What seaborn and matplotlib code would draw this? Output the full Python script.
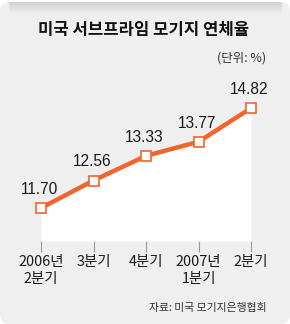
import numpy as np
import pandas as pd
import matplotlib
matplotlib.use('Agg')
import matplotlib.pyplot as plt
import seaborn as sns
from matplotlib.patches import FancyBboxPatch

# 미국 서브프라임 모기지 연체율 (%)
quarters = ['2006년\n2분기', '3분기', '4분기', '2007년\n1분기', '2분기']
rates = [11.70, 12.56, 13.33, 13.77, 14.82]
rate_labels = ['11.70', '12.56', '13.33', '13.77', '14.82']

df = pd.DataFrame({'pos': range(len(quarters)), 'rate': rates})

sns.set_style('white')
plt.rcParams['font.family'] = ['Noto Sans CJK KR', 'DejaVu Sans']

bg = '#efefef'
orange = '#f2642e'

fig = plt.figure(figsize=(2.9, 3.24), dpi=100)
fig.patch.set_facecolor('white')

# rounded panel with a gray shade at the top edge
shade = fig.add_axes([0, 0, 1, 1], zorder=-2)
shade.set_xlim(0, 1)
shade.set_ylim(0, 1)
panel = FancyBboxPatch((0.0, 0.0), 1.0, 1 - 2 / 324, boxstyle='round,pad=0,rounding_size=0.03',
                       facecolor=bg, edgecolor='none', transform=shade.transAxes, zorder=-1)
shade.add_patch(panel)
grad = np.linspace(0, 1, 40).reshape(-1, 1)
cmap = matplotlib.colors.LinearSegmentedColormap.from_list('g', ['#d2d2d2', bg])
shade.imshow(grad, cmap=cmap, aspect='auto', extent=[0.03, 0.97, 1 - 14 / 324, 1 - 2 / 324],
             origin='upper', zorder=0)
shade.axis('off')

ax = fig.add_axes([41 / 290, 83 / 324, 210 / 290, 161 / 324])
ax.set_facecolor('none')
ymin = 10.67
ax.set_xlim(0, 4)
ax.set_ylim(ymin, 15.7)

ax.fill_between(df['pos'], ymin, df['rate'], color='white', lw=0, zorder=1)
sns.lineplot(data=df, x='pos', y='rate', ax=ax, color=orange, lw=3.2, zorder=3,
             marker='s', markersize=7.5, markerfacecolor='white', markeredgecolor=orange,
             markeredgewidth=1.2, clip_on=False)
for line in ax.lines:
    line.set_clip_on(False)

for x, y, t in zip(df['pos'], df['rate'], rate_labels):
    ax.annotate(t, (x, y), xytext=(-1, 8), textcoords='offset points', ha='center', va='bottom',
                fontsize=11.2, family=['Liberation Sans', 'DejaVu Sans'], color='#1a1a1a')

ax.set_xticks(df['pos'])
ax.set_xticklabels(quarters, fontsize=10.4, color='#1a1a1a', linespacing=1.3)
ax.set_yticks([])
ax.tick_params(axis='x', direction='out', length=8, width=0.8, color='#999999', pad=2, bottom=True)
ax.set_xlabel('')
ax.set_ylabel('')
sns.despine(ax=ax, left=True, bottom=True)

fig.text(144 / 290, 1 - 30 / 324, '미국 서브프라임 모기지 연체율', ha='center', va='center',
         fontsize=12, fontweight='bold', color='#111111')
fig.text(266 / 290, 1 - 58 / 324, '(단위: %)', ha='right', va='center', fontsize=9, color='#333333')
fig.text(267 / 290, 1 - 308 / 324, '자료: 미국 모기지은행협회', ha='right', va='center',
         fontsize=7.8, color='#333333')

fig.savefig('out.png', dpi=100, facecolor=fig.get_facecolor())
